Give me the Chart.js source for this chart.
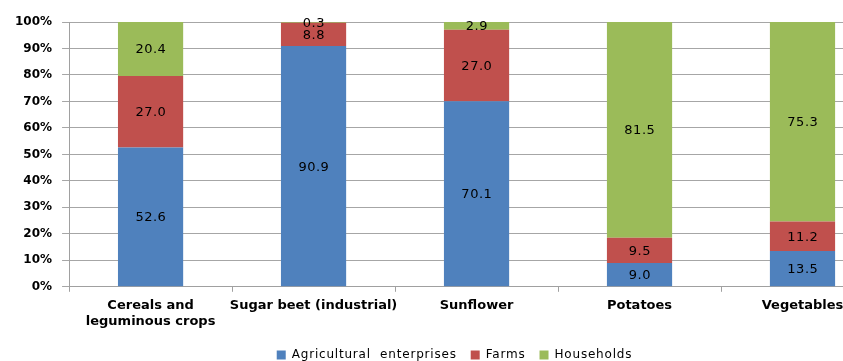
<!DOCTYPE html>
<html>
<head>
<meta charset="utf-8">
<script src="https://cdn.jsdelivr.net/npm/chart.js@4"></script>
<style>
  html, body { margin: 0; padding: 0; background: #fff; overflow: hidden; }
  #wrap { width: 843px; height: 361px; overflow: hidden; }
  canvas { display: block; }
</style>
</head>
<body>
<div id="wrap"><canvas id="c" width="900" height="361"></canvas></div>
<script>
// Crop categories and the share (%) held by each type of producer
const categories = [["Cereals and", "leguminous crops"], "Sugar beet (industrial)", "Sunflower", "Potatoes", "Vegetables"];
const agriculturalEnterprises = [52.6, 90.9, 70.1, 9.0, 13.5];
const farms = [27.0, 8.8, 27.0, 9.5, 11.2];
const households = [20.4, 0.3, 2.9, 81.5, 75.3];
const yTicks = [0, 10, 20, 30, 40, 50, 60, 70, 80, 90, 100];

const FONT = "'DejaVu Sans', Verdana, sans-serif";

// Writes each segment's value in the middle of its bar piece
const segmentLabels = {
  id: 'segmentLabels',
  afterDatasetsDraw(chart) {
    const ctx = chart.ctx;
    ctx.save();
    ctx.font = "500 13px " + FONT;
    ctx.letterSpacing = '0.5px';
    ctx.fillStyle = '#000';
    ctx.textAlign = 'center';
    ctx.textBaseline = 'middle';
    chart.data.datasets.forEach((ds, di) => {
      const meta = chart.getDatasetMeta(di);
      meta.data.forEach((bar, i) => {
        const v = ds.data[i];
        const y = (bar.y + bar.base) / 2;
        ctx.fillText(v.toFixed(1), bar.x + 0.3, y + 1);
      });
    });
    ctx.restore();
  }
};

// Wider-spaced legend text, and the legend nudged to the right
const legendStyle = {
  id: 'legendStyle',
  beforeInit(chart) {
    const lg = chart.legend;
    if (!lg) return;
    const fit = lg.fit.bind(lg);
    const draw = lg.draw.bind(lg);
    lg.fit = function () {
      lg.ctx.save(); lg.ctx.letterSpacing = '0.8px'; fit(); lg.ctx.restore();
    };
    lg.draw = function () {
      lg.ctx.save(); lg.ctx.letterSpacing = '0.8px'; draw(); lg.ctx.restore();
    };
  },
  afterLayout(chart) {
    const lg = chart.legend;
    if (!lg) return;
    lg.left += 10; lg.right += 10;
  }
};

new Chart(document.getElementById('c'), {
  type: 'bar',
  data: {
    labels: categories,
    datasets: [
      { label: 'Agricultural  enterprises', data: agriculturalEnterprises, backgroundColor: '#4F81BD' },
      { label: 'Farms', data: farms, backgroundColor: '#C0504D' },
      { label: 'Households', data: households, backgroundColor: '#9BBB59' }
    ]
  },
  options: {
    responsive: false,
    animation: false,
    layout: { padding: { left: 5, right: 16, top: 22, bottom: -10 } },
    datasets: { bar: { categoryPercentage: 1.0, barPercentage: 0.4 } },
    plugins: {
      tooltip: { enabled: false },
      legend: {
        position: 'bottom',
        labels: {
          boxWidth: 9, boxHeight: 9, padding: 14,
          color: '#000',
          font: { family: FONT, size: 12 }
        }
      }
    },
    scales: {
      x: {
        stacked: true,
        offset: true,
        grid: { offset: true, drawOnChartArea: false, drawTicks: true, tickLength: 5, color: '#a0a0a0' },
        border: { color: '#a0a0a0' },
        ticks: { color: '#000', font: { family: FONT, size: 13, weight: 'bold' }, padding: 6, maxRotation: 0, autoSkip: false }
      },
      y: {
        stacked: true,
        min: 0, max: 100,
        afterBuildTicks(scale) { scale.ticks = yTicks.map(v => ({ value: v })); },
        grid: { color: '#a6a6a6', tickLength: 7 },
        border: { color: '#a0a0a0' },
        ticks: {
          color: '#000', padding: 10,
          font: { family: FONT, size: 12, weight: 'bold' },
          callback: v => v + '%'
        }
      }
    }
  },
  plugins: [segmentLabels, legendStyle]
});
</script>
</body>
</html>
